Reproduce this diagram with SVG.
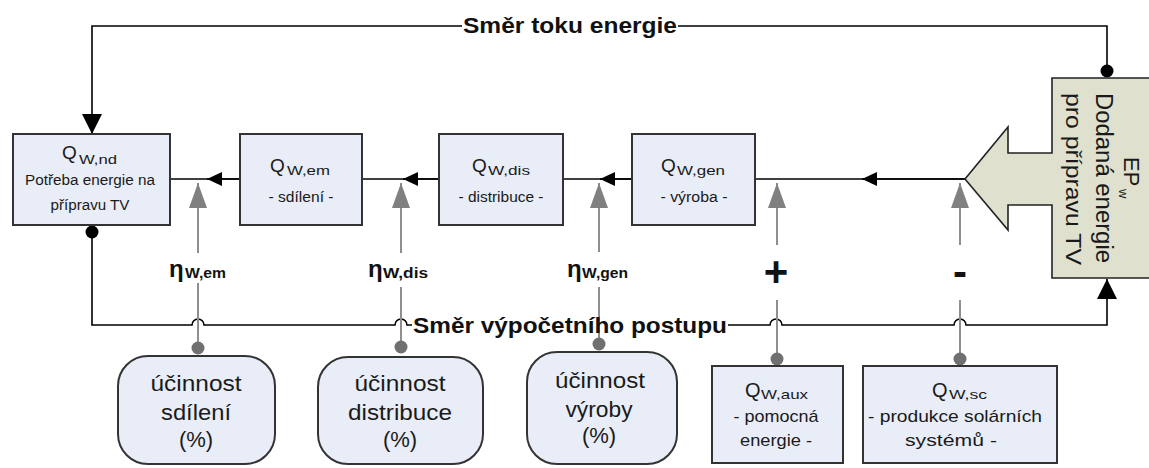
<svg xmlns="http://www.w3.org/2000/svg" width="1149" height="468" viewBox="0 0 1149 468">
<style>
.t{font-family:"Liberation Sans",Arial,sans-serif;fill:#1a1a1a}
.b{font-weight:bold;fill:#111}
.box{fill:#e8edf7;stroke:#333;stroke-width:2}
.conn{stroke:#000;stroke-width:1.6;fill:none}
.gl{stroke:#8f8f8f;stroke-width:2;fill:none}
.dotk{fill:#000}
.dotg{fill:#707070}
</style>
<defs>
<marker id="bigA" markerUnits="userSpaceOnUse" viewBox="0 0 20 20" refX="20" refY="10" markerWidth="20" markerHeight="20" orient="auto"><path d="M0,0 L20,10 L0,20 Z" fill="#000"/></marker>
<marker id="smA" markerUnits="userSpaceOnUse" viewBox="0 0 15 14" refX="15" refY="7" markerWidth="15" markerHeight="14" orient="auto"><path d="M0,0 L15,7 L0,14 Z" fill="#000"/></marker>
<marker id="grA" markerUnits="userSpaceOnUse" viewBox="0 0 25 18" refX="25" refY="9" markerWidth="25" markerHeight="18" orient="auto"><path d="M0,0 L25,9 L0,18 Z" fill="#808080"/></marker>
</defs>

<g id="connectors">
  <path class="conn" d="M240,179 L170,179"/>
  <path class="conn" d="M240,179 L207,179" marker-end="url(#smA)" stroke="none"/>
  <path class="conn" d="M439,179 L362,179"/>
  <path class="conn" d="M439,179 L403,179" marker-end="url(#smA)" stroke="none"/>
  <path class="conn" d="M632,179 L563,179"/>
  <path class="conn" d="M632,179 L600,179" marker-end="url(#smA)" stroke="none"/>
  <path class="conn" d="M965,179 L755,179"/>
  <path class="conn" d="M965,179 L862,179" marker-end="url(#smA)" stroke="none"/>
  <path class="conn" d="M1107,71 L1107,26 L678,26"/>
  <path class="conn" d="M462,26 L92,26 L92,134" marker-end="url(#bigA)"/>
  <path class="conn" d="M92,232 L92,325 L192,325 A6,6 0 0 1 204,325 L395,325 A6,6 0 0 1 407,325 L412,325"/>
  <path class="conn" d="M728,325 L770,325 A6,6 0 0 1 782,325 L954,325 A6,6 0 0 1 966,325 L1107,325 L1107,279" marker-end="url(#bigA)"/>
  <path class="gl" d="M198,253 L198,183" marker-end="url(#grA)"/>
  <path class="gl" d="M198,283 L198,348"/>
  <path class="gl" d="M401,253 L401,183" marker-end="url(#grA)"/>
  <path class="gl" d="M401,287 L401,347"/>
  <path class="gl" d="M599,252 L599,183" marker-end="url(#grA)"/>
  <path class="gl" d="M599,287 L599,344"/>
  <path class="gl" d="M777,245 L777,183" marker-end="url(#grA)"/>
  <path class="gl" d="M777,300 L777,359"/>
  <path class="gl" d="M960,245 L960,183" marker-end="url(#grA)"/>
  <path class="gl" d="M960,300 L960,359"/>
  <circle class="dotk" cx="92" cy="232" r="6.5"/>
  <circle class="dotk" cx="1107" cy="71" r="6.5"/>
  <circle class="dotg" cx="198" cy="348" r="6.5"/>
  <circle class="dotg" cx="401" cy="347" r="6.5"/>
  <circle class="dotg" cx="599" cy="344" r="6.5"/>
  <circle class="dotg" cx="777" cy="359" r="6.5"/>
  <circle class="dotg" cx="960" cy="359" r="6.5"/>
  <text class="t b" x="570" y="33" font-size="22" text-anchor="middle" textLength="214" lengthAdjust="spacingAndGlyphs">Směr toku energie</text>
  <text class="t b" x="570" y="333" font-size="22" text-anchor="middle" textLength="314" lengthAdjust="spacingAndGlyphs">Směr výpočetního postupu</text>
  <text class="t b" x="169" y="277" font-size="24">η</text>
  <text class="t b" x="185" y="278" font-size="14" textLength="41" lengthAdjust="spacingAndGlyphs">W,em</text>
  <text class="t b" x="368" y="277" font-size="24">η</text>
  <text class="t b" x="383" y="278" font-size="14" textLength="45" lengthAdjust="spacingAndGlyphs">W,dis</text>
  <text class="t b" x="567" y="277" font-size="24">η</text>
  <text class="t b" x="582" y="278" font-size="14" textLength="46" lengthAdjust="spacingAndGlyphs">W,gen</text>
  <text class="t b" x="776" y="286" font-size="42" text-anchor="middle">+</text>
  <text class="t b" x="960" y="286" font-size="42" text-anchor="middle">-</text>
</g>

<g id="node-qwnd">
  <rect class="box" x="13" y="134" width="157" height="91"/>
  <text class="t" x="62" y="159" font-size="19">Q</text>
  <text class="t" x="79" y="164" font-size="13" textLength="38" lengthAdjust="spacingAndGlyphs">W,nd</text>
  <text class="t" x="90" y="185" font-size="14" text-anchor="middle" textLength="130" lengthAdjust="spacingAndGlyphs">Potřeba energie na</text>
  <text class="t" x="90" y="210" font-size="14" text-anchor="middle" textLength="79" lengthAdjust="spacingAndGlyphs">přípravu TV</text>
</g>

<g id="node-qwem">
  <rect class="box" x="240" y="134" width="122" height="91"/>
  <text class="t" x="270" y="172" font-size="19">Q</text>
  <text class="t" x="287" y="175" font-size="13" textLength="43" lengthAdjust="spacingAndGlyphs">W,em</text>
  <text class="t" x="301" y="202" font-size="14" text-anchor="middle" textLength="65" lengthAdjust="spacingAndGlyphs">- sdílení -</text>
</g>

<g id="node-qwdis">
  <rect class="box" x="439" y="134" width="124" height="91"/>
  <text class="t" x="472" y="172" font-size="19">Q</text>
  <text class="t" x="488" y="175" font-size="13" textLength="42" lengthAdjust="spacingAndGlyphs">W,dis</text>
  <text class="t" x="501" y="202" font-size="14" text-anchor="middle" textLength="85" lengthAdjust="spacingAndGlyphs">- distribuce -</text>
</g>

<g id="node-qwgen">
  <rect class="box" x="632" y="134" width="123" height="91"/>
  <text class="t" x="661" y="172" font-size="19">Q</text>
  <text class="t" x="677" y="175" font-size="13" textLength="48" lengthAdjust="spacingAndGlyphs">W,gen</text>
  <text class="t" x="694" y="202" font-size="14" text-anchor="middle" textLength="67" lengthAdjust="spacingAndGlyphs">- výroba -</text>
</g>

<g id="node-epw">
  <path d="M1052,78 L1155,78 L1155,278 L1052,278 L1052,205 L1008,205 L1008,230 L965,179 L1008,127 L1008,153 L1052,153 Z" fill="#dfe0cd" stroke="#222" stroke-width="1.6"/>
  <g transform="translate(1124,157) rotate(90)">
    <text class="t" x="0" y="0" font-size="22">EP</text>
  </g>
  <g transform="translate(1119,189) rotate(90)">
    <text class="t" x="0" y="0" font-size="13">w</text>
  </g>
  <g transform="translate(1096,178) rotate(90)">
    <text class="t" x="0" y="0" font-size="23" text-anchor="middle" textLength="170" lengthAdjust="spacingAndGlyphs">Dodaná energie</text>
  </g>
  <g transform="translate(1066,179) rotate(90)">
    <text class="t" x="0" y="0" font-size="22" text-anchor="middle" textLength="172" lengthAdjust="spacingAndGlyphs">pro přípravu TV</text>
  </g>
</g>

<g id="node-ucinnost-sdileni">
  <rect class="box" x="118" y="356" width="157" height="108" rx="30" ry="30"/>
  <text class="t" x="196" y="391" font-size="22" text-anchor="middle" textLength="91" lengthAdjust="spacingAndGlyphs">účinnost</text>
  <text class="t" x="196" y="420" font-size="22" text-anchor="middle" textLength="70" lengthAdjust="spacingAndGlyphs">sdílení</text>
  <text class="t" x="196" y="447" font-size="22" text-anchor="middle">(%)</text>
</g>

<g id="node-ucinnost-distribuce">
  <rect class="box" x="318" y="357" width="165" height="107" rx="30" ry="30"/>
  <text class="t" x="400" y="391" font-size="22" text-anchor="middle" textLength="91" lengthAdjust="spacingAndGlyphs">účinnost</text>
  <text class="t" x="400" y="420" font-size="22" text-anchor="middle" textLength="104" lengthAdjust="spacingAndGlyphs">distribuce</text>
  <text class="t" x="400" y="447" font-size="22" text-anchor="middle">(%)</text>
</g>

<g id="node-ucinnost-vyroby">
  <rect class="box" x="527" y="352" width="150" height="112" rx="30" ry="30"/>
  <text class="t" x="600" y="388" font-size="22" text-anchor="middle" textLength="90" lengthAdjust="spacingAndGlyphs">účinnost</text>
  <text class="t" x="599" y="417" font-size="22" text-anchor="middle" textLength="67" lengthAdjust="spacingAndGlyphs">výroby</text>
  <text class="t" x="599" y="443" font-size="22" text-anchor="middle">(%)</text>
</g>

<g id="node-qwaux">
  <rect class="box" x="712" y="366" width="131" height="97"/>
  <text class="t" x="745" y="397" font-size="20">Q</text>
  <text class="t" x="761" y="399" font-size="13" textLength="47" lengthAdjust="spacingAndGlyphs">W,aux</text>
  <text class="t" x="776" y="422" font-size="17" text-anchor="middle" textLength="85" lengthAdjust="spacingAndGlyphs">- pomocná</text>
  <text class="t" x="776" y="446" font-size="17" text-anchor="middle" textLength="72" lengthAdjust="spacingAndGlyphs">energie -</text>
</g>

<g id="node-qwsc">
  <rect class="box" x="863" y="366" width="194" height="97"/>
  <text class="t" x="932" y="397" font-size="20">Q</text>
  <text class="t" x="949" y="399" font-size="13" textLength="38" lengthAdjust="spacingAndGlyphs">W,sc</text>
  <text class="t" x="955" y="422" font-size="17" text-anchor="middle" textLength="174" lengthAdjust="spacingAndGlyphs">- produkce solárních</text>
  <text class="t" x="951" y="446" font-size="17" text-anchor="middle" textLength="92" lengthAdjust="spacingAndGlyphs">systémů -</text>
</g>
</svg>
